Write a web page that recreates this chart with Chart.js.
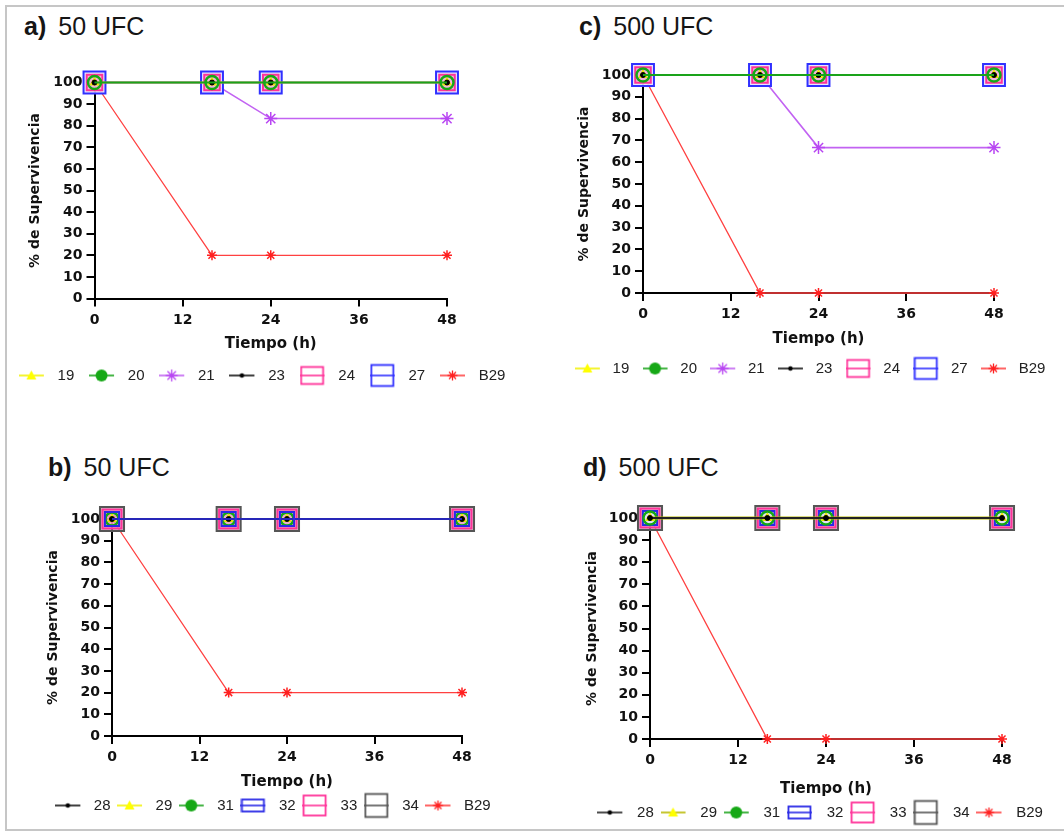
<!DOCTYPE html>
<html>
<head>
<meta charset="utf-8">
<script src="https://cdn.jsdelivr.net/npm/chart.js@4.4.1/dist/chart.umd.min.js"></script>
<style>
    html, body { margin: 0; padding: 0; background: #fff; width: 1064px; height: 833px; overflow: hidden; }
    #frame { position: absolute; left: 5px; top: 5px; width: 1090px; height: 822px; border: 2px solid #c6c6c6; border-right: none; }
    canvas { position: absolute; }
    .ttl { position: absolute; font-family: 'Liberation Sans', Arial, sans-serif; font-size: 25px; line-height: 1.15; color: #151515; white-space: nowrap; }
    .ttl b { margin-right: 12px; }
</style>
</head>
<body>
<div id="frame"></div>
<div class="ttl" style="left:24px; top:12px"><b>a)</b>50 UFC</div>
<div class="ttl" style="left:579px; top:12px"><b>c)</b>500 UFC</div>
<div class="ttl" style="left:48px; top:453px"><b>b)</b>50 UFC</div>
<div class="ttl" style="left:583px; top:453px"><b>d)</b>500 UFC</div>
<canvas id="chartA"></canvas>
<canvas id="chartC"></canvas>
<canvas id="chartB"></canvas>
<canvas id="chartD"></canvas>
<script>
// time points (h) and tick values
const timeH = [0, 16, 24, 48];
const xTicks = [0, 12, 24, 36, 48];
const yTicks = [0, 10, 20, 30, 40, 50, 60, 70, 80, 90, 100];

const topLabels = ['19', '20', '21', '23', '24', '27', 'B29'];
const bottomLabels = ['28', '29', '31', '32', '33', '34', 'B29'];

// a) 50 UFC
const a19 = [100, 100, 100, 100];
const a20 = [100, 100, 100, 100];
const a21 = [100, 100, 83.3, 83.3];
const a23 = [100, 100, 100, 100];
const a24 = [100, 100, 100, 100];
const a27 = [100, 100, 100, 100];
const aB29 = [100, 20, 20, 20];

// c) 500 UFC
const c19 = [100, 100, 100, 100];
const c20 = [100, 100, 100, 100];
const c21 = [100, 100, 66.7, 66.7];
const c23 = [100, 100, 100, 100];
const c24 = [100, 100, 100, 100];
const c27 = [100, 100, 100, 100];
const cB29 = [100, 0, 0, 0];

// b) 50 UFC
const b28 = [100, 100, 100, 100];
const b29 = [100, 100, 100, 100];
const b31 = [100, 100, 100, 100];
const b32 = [100, 100, 100, 100];
const b33 = [100, 100, 100, 100];
const b34 = [100, 100, 100, 100];
const bB29 = [100, 20, 20, 20];

// d) 500 UFC
const d28 = [100, 100, 100, 100];
const d29 = [100, 100, 100, 100];
const d31 = [100, 100, 100, 100];
const d32 = [100, 100, 100, 100];
const d33 = [100, 100, 100, 100];
const d34 = [100, 100, 100, 100];
const dB29 = [100, 0, 0, 0];

// marker / line looks
const yellow = { line: '#f2f200', width: 1.5, pt: 'triangle', r: 5, bg: '#ffff00', bd: '#e8e800', bw: 1, mark: 'tri' };
const green = { line: '#1aa31a', width: 2.2, pt: 'circle', r: 6.5, bg: 'rgba(0,0,0,0)', bd: '#16a816', bw: 2.5, mark: 'fill' };
const purple = { line: '#c263f2', width: 1.6, pt: 'star', r: 6.5, bg: '#b846f2', bd: '#b846f2', bw: 1.5, mark: 'star' };
const black = { line: '#111', width: 1, pt: 'circle', r: 2.5, bg: '#000', bd: '#000', bw: 1, mark: 'dot' };
const red = { line: '#ff4040', width: 1.3, pt: 'star', r: 5, bg: '#ff2020', bd: '#ff2020', bw: 1.5, mark: 'star', mr: 5 };
const pinkA = { line: '#ff4da6', width: 1.5, pt: 'rect', r: 11, bg: 'rgba(255,150,200,0.6)', bd: '#ff3399', bw: 2, mark: 'box', bh: 17 };
const blueA = { line: '#3333ff', width: 1.5, pt: 'rect', r: 15.5, bg: 'rgba(228,228,255,0.9)', bd: '#3030ff', bw: 2, mark: 'box', bh: 21 };
const blueB = { line: '#2626b8', width: 2, pt: 'rect', r: 10, bg: 'rgba(0,0,0,0)', bd: '#2a2ae6', bw: 2, mark: 'box', bh: 12 };
const pinkB = { line: '#ff4da6', width: 1.5, pt: 'rect', r: 13.5, bg: 'rgba(255,150,205,0.6)', bd: '#ff3399', bw: 2, mark: 'box', bh: 20 };
const grayB = { line: '#333', width: 1.5, pt: 'rect', r: 17, bg: 'rgba(170,170,170,0.6)', bd: '#555', bw: 2, mark: 'box', bh: 23 };

function legendSymbol(s, w) {
    const c = document.createElement('canvas');
    c.width = w; c.height = 28;
    const g = c.getContext('2d');
    const cx = 12.5, cy = 14;
    g.strokeStyle = s.mark === 'box' ? s.bd : s.line;
    g.lineWidth = 1.6;
    g.beginPath(); g.moveTo(0, cy); g.lineTo(25, cy); g.stroke();
    g.fillStyle = s.mark === 'tri' ? '#ffff00' : s.bd;
    if (s.mark === 'tri') {
        g.beginPath(); g.moveTo(cx, cy - 5); g.lineTo(cx + 5, cy + 4); g.lineTo(cx - 5, cy + 4); g.closePath(); g.fill();
    } else if (s.mark === 'fill') {
        g.beginPath(); g.arc(cx, cy, 6, 0, Math.PI * 2); g.fill();
    } else if (s.mark === 'dot') {
        g.beginPath(); g.arc(cx, cy, 2.3, 0, Math.PI * 2); g.fill();
    } else if (s.mark === 'star') {
        const r = s.mr || 6;
        g.strokeStyle = s.bd; g.lineWidth = 1.3;
        g.beginPath();
        g.moveTo(cx - r, cy); g.lineTo(cx + r, cy);
        g.moveTo(cx, cy - r); g.lineTo(cx, cy + r);
        g.moveTo(cx - r * 0.7, cy - r * 0.7); g.lineTo(cx + r * 0.7, cy + r * 0.7);
        g.moveTo(cx - r * 0.7, cy + r * 0.7); g.lineTo(cx + r * 0.7, cy - r * 0.7);
        g.stroke();
    } else if (s.mark === 'box') {
        g.strokeStyle = s.bd; g.lineWidth = 1.8;
        g.strokeRect(cx - 11, cy - s.bh / 2, 22, s.bh);
    }
    return c;
}

const panels = [
    { id: 'chartA', labels: topLabels, values: [a19, a20, a21, a23, a24, a27, aB29],
      looks: [yellow, green, purple, black, pinkA, blueA, red], orders: [2, 0, 5, 1, 3, 4, 6],
      chartLeft: 94.5, chartRight: 447, chartTop: 82.5, chartBottom: 298, yTitleX: 35,
      legendX: 262, legendHalf: 277, xAxisH: 55, pad: 14.5, symW: 31.5 },
    { id: 'chartC', labels: topLabels, values: [c19, c20, c21, c23, c24, c27, cB29],
      looks: [yellow, green, purple, black, pinkA, blueA, red], orders: [2, 0, 5, 1, 3, 4, 6],
      chartLeft: 643, chartRight: 994, chartTop: 75, chartBottom: 292.5, yTitleX: 584,
      legendX: 810, legendHalf: 265, xAxisH: 55, pad: 13, symW: 30.5 },
    { id: 'chartB', labels: bottomLabels, values: [b28, b29, b31, b32, b33, b34, bB29],
      looks: [black, yellow, green, blueB, pinkB, grayB, red], orders: [1, 3, 2, 0, 4, 5, 6],
      chartLeft: 112, chartRight: 462, chartTop: 519, chartBottom: 735.5, yTitleX: 53,
      legendX: 273, legendHalf: 250, xAxisH: 55.5, pad: 6.5, symW: 31 },
    { id: 'chartD', labels: bottomLabels, values: [d28, d29, d31, d32, d33, d34, dB29],
      looks: [Object.assign({}, black, { line: '#222', width: 2 }), Object.assign({}, yellow, { line: '#b8b800', width: 3 }), green,
              Object.assign({}, blueB, { bg: 'rgba(228,228,255,0.9)' }), pinkB, grayB, red],
      orders: [0, 1, 2, 3, 4, 5, 6],
      chartLeft: 650, chartRight: 1002, chartTop: 518, chartBottom: 738.5, yTitleX: 592,
      legendX: 820, legendHalf: 260, xAxisH: 59.5, pad: 6.5, symW: 32.5 }
];

const tickFont = { family: 'DejaVu Sans', size: 14, weight: 'bold' };

panels.forEach(p => {
    const boxLeft = p.legendX - p.legendHalf;
    const boxRight = p.legendX + p.legendHalf;
    const canvasTop = Math.round(p.chartTop - 30);
    const padTop = p.chartTop - canvasTop;
    const legendH = 15 + p.pad + 10;
    const height = Math.ceil(p.chartBottom + p.xAxisH + legendH - canvasTop);
    const width = boxRight - boxLeft;

    const cv = document.getElementById(p.id);
    cv.width = width; cv.height = height;
    cv.style.left = boxLeft + 'px';
    cv.style.top = canvasTop + 'px';

    const datasets = p.labels.map((lab, i) => {
        const s = p.looks[i];
        return {
            label: lab,
            data: timeH.map((t, k) => ({ x: t, y: p.values[i][k] })),
            borderColor: s.line,
            borderWidth: s.width,
            pointStyle: s.pt,
            pointRadius: s.r,
            pointHoverRadius: s.r,
            pointBackgroundColor: s.bg,
            pointBorderColor: s.bd,
            pointBorderWidth: s.bw,
            tension: 0,
            fill: false,
            clip: false,
            order: p.orders[i],
            legendImage: legendSymbol(s, p.symW)
        };
    });

    new Chart(cv, {
        type: 'line',
        data: { datasets: datasets },
        options: {
            responsive: false,
            animation: false,
            layout: { padding: { top: padTop, left: 0, right: 0, bottom: 0 } },
            plugins: {
                tooltip: { enabled: false },
                legend: {
                    position: 'bottom',
                    labels: {
                        usePointStyle: true,
                        pointStyleWidth: p.symW,
                        padding: p.pad,
                        color: '#222',
                        font: { family: 'Liberation Sans', size: 15 },
                        generateLabels: chart => chart.data.datasets.map((ds, i) => ({
                            text: ds.label,
                            pointStyle: ds.legendImage,
                            fillStyle: 'transparent',
                            strokeStyle: 'transparent',
                            lineWidth: 0,
                            hidden: false,
                            datasetIndex: i,
                            fontColor: '#222'
                        }))
                    }
                }
            },
            scales: {
                x: {
                    type: 'linear',
                    min: 0, max: 48,
                    afterBuildTicks: s => { s.ticks = xTicks.map(v => ({ value: v })); },
                    afterFit: s => { s.height = p.xAxisH; },
                    ticks: { color: '#111', font: tickFont, padding: 5, maxRotation: 0 },
                    grid: { drawOnChartArea: false, drawTicks: true, tickLength: 8, color: '#000', lineWidth: 2 },
                    border: { display: true, color: '#000', width: 2 },
                    title: { display: true, text: 'Tiempo (h)', color: '#111', padding: 0,
                             font: { family: 'DejaVu Sans', size: 15, weight: 'bold' } }
                },
                y: {
                    type: 'linear',
                    min: 0, max: 100,
                    afterBuildTicks: s => { s.ticks = yTicks.map(v => ({ value: v })); },
                    afterFit: s => { s.width = p.chartLeft - boxLeft; },
                    ticks: { color: '#111', font: tickFont, padding: 4 },
                    grid: { drawOnChartArea: false, drawTicks: true, tickLength: 8, color: '#000', lineWidth: 2 },
                    border: { display: true, color: '#000', width: 2 },
                    title: { display: true, text: '% de Supervivencia', color: '#111',
                             padding: { top: p.yTitleX - 8.4 - boxLeft, bottom: 0 },
                             font: { family: 'DejaVu Sans', size: 14, weight: 'bold' } }
                },
                spare: {
                    type: 'linear',
                    position: 'right',
                    afterFit: s => { s.width = boxRight - p.chartRight; },
                    ticks: { display: false },
                    grid: { display: false },
                    border: { display: false }
                }
            }
        }
    });
});
</script>
</body>
</html>
